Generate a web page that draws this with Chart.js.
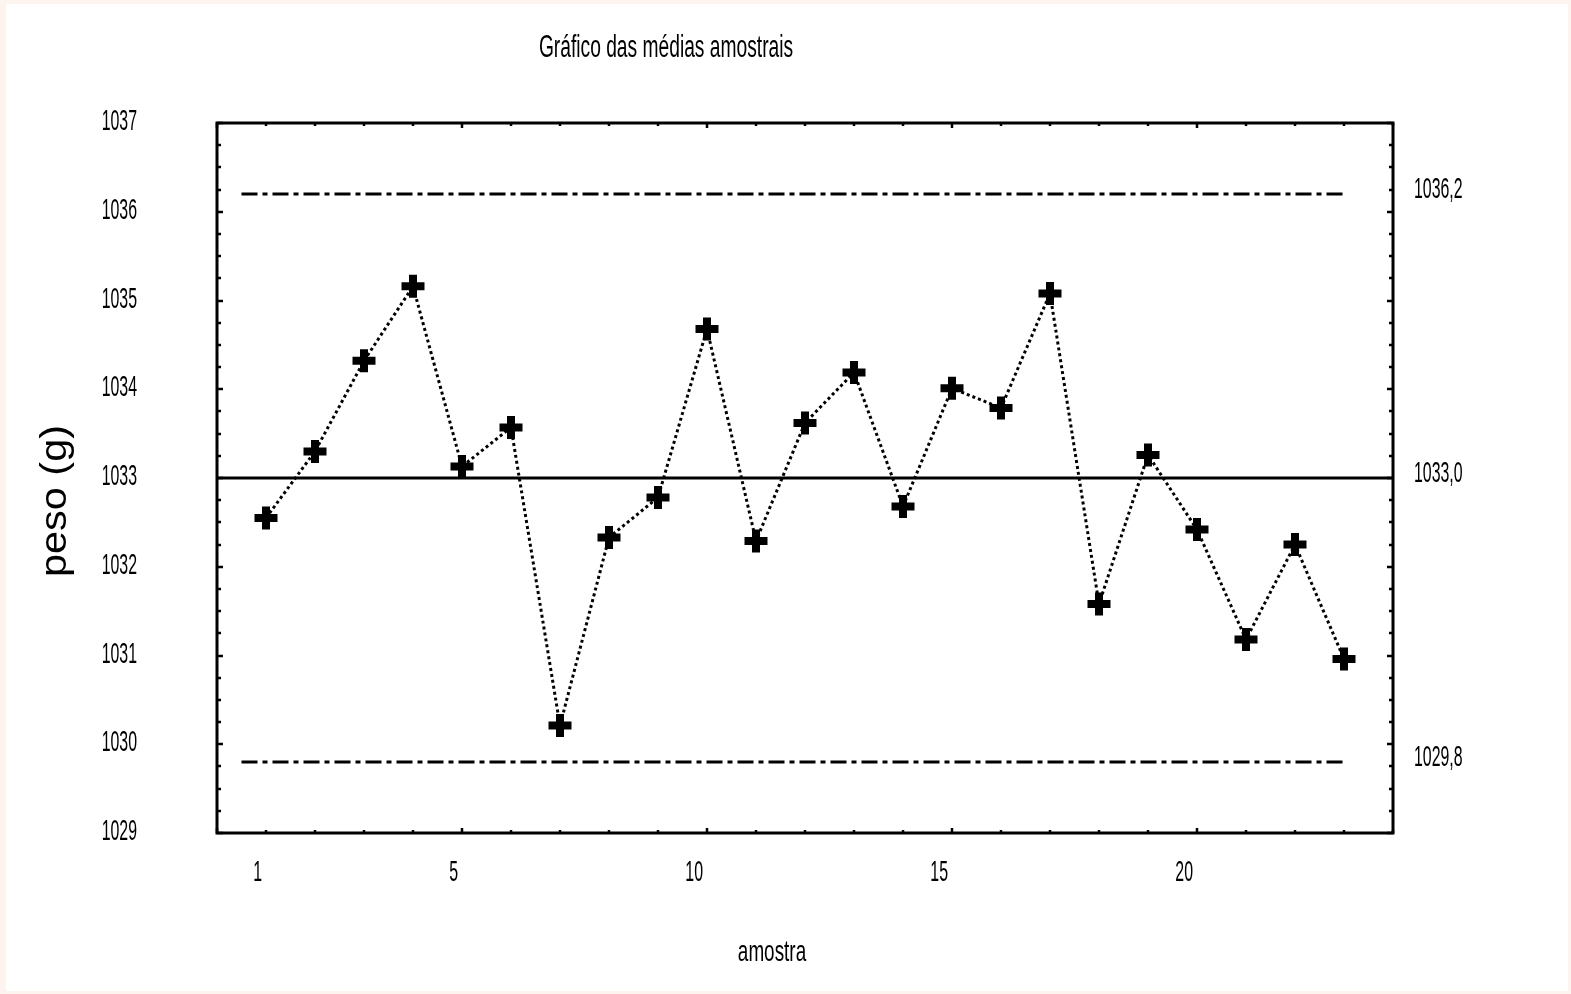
<!DOCTYPE html>
<html>
<head>
<meta charset="utf-8">
<script src="https://cdn.jsdelivr.net/npm/chart.js@4.4.1/dist/chart.umd.min.js"></script>
<style>
  html, body { margin: 0; padding: 0; background: #fdf4ef; overflow: hidden; }
  #wrap { position: absolute; left: 0; top: 0; width: 1571px; height: 994px; }
</style>
</head>
<body>
<div id="wrap"><canvas id="c" width="1571" height="994"></canvas></div>
<script>
// Sample means (g) for samples 1..23
const samples = [1, 2, 3, 4, 5, 6, 7, 8, 9, 10, 11, 12, 13, 14, 15, 16, 17, 18, 19, 20, 21, 22, 23];
const means = [1032.55, 1033.30, 1034.32, 1035.16, 1033.13, 1033.57, 1030.21, 1032.33, 1032.78,
               1034.68, 1032.29, 1033.62, 1034.19, 1032.68, 1034.01, 1033.79, 1035.08, 1031.58,
               1033.26, 1032.42, 1031.18, 1032.25, 1030.96];

// Control limits
const centerLine = 1033.0;
const upperLimit = 1036.2;
const lowerLimit = 1029.8;

// Axis ticks
const yTickValues = [1029, 1030, 1031, 1032, 1033, 1034, 1035, 1036, 1037];
const xTickValues = [1, 5, 10, 15, 20];
const xRange = [0, 24];
const yRange = [1029, 1037];

// Texts
const titleText = 'Gráfico das médias amostrais';
const xTitle = 'amostra';
const yTitle = 'peso (g)';

const FONT_WIDE = '"Liberation Sans", Arial, sans-serif';
const FONT = '"Liberation Sans Narrow", "Arial Narrow", "Liberation Sans", Arial, sans-serif';

// Horizontal squeeze factors are given relative to the regular face;
// if the narrow face is present, compensate for its narrower glyphs.
let narrowRatio = 1;
function computeNarrowRatio(ctx) {
  ctx.save();
  ctx.font = '100px ' + FONT_WIDE;
  const wReg = ctx.measureText('1037 Gráfico amostra').width;
  ctx.font = '100px ' + FONT;
  const wNar = ctx.measureText('1037 Gráfico amostra').width;
  ctx.restore();
  narrowRatio = wReg / wNar;
}

function drawText(ctx, text, x, y, size, sx, align, rotate) {
  ctx.save();
  ctx.translate(x, y);
  if (rotate) ctx.rotate(rotate);
  ctx.scale(sx * narrowRatio, 1);
  ctx.font = size + 'px ' + FONT;
  ctx.textAlign = align;
  ctx.textBaseline = 'alphabetic';
  ctx.fillStyle = '#000';
  ctx.fillText(text, 0, 0);
  ctx.restore();
}

function drawWideText(ctx, text, x, y, size, sx, align, rotate) {
  ctx.save();
  ctx.translate(x, y);
  if (rotate) ctx.rotate(rotate);
  ctx.scale(sx, 1);
  ctx.font = size + 'px ' + FONT_WIDE;
  ctx.textAlign = align;
  ctx.textBaseline = 'alphabetic';
  ctx.fillStyle = '#000';
  ctx.fillText(text, 0, 0);
  ctx.restore();
}

const fmtComma = v => v.toFixed(1).replace('.', ',');

// Page background, frame with inward ticks, and all labels
const framePlugin = {
  id: 'frame',
  beforeDraw(chart) {
    const ctx = chart.ctx;
    computeNarrowRatio(ctx);
    ctx.save();
    ctx.fillStyle = '#ffffff';
    ctx.fillRect(6, 4, chart.width - 9, chart.height - 7);
    ctx.restore();
  },
  afterDraw(chart) {
    const ctx = chart.ctx;
    const { left, right, top, bottom } = chart.chartArea;
    const xs = chart.scales.x, ys = chart.scales.y;
    ctx.save();
    ctx.strokeStyle = '#000';
    ctx.lineCap = 'butt';

    // inward tick marks
    ctx.lineWidth = 2.5;
    ctx.beginPath();
    for (let v = yRange[0]; v <= yRange[1] + 1e-9; v += 0.25) {
      const y = Math.round(ys.getPixelForValue(v));
      const len = Math.abs(v - Math.round(v)) < 1e-6 ? 6 : 4;
      ctx.moveTo(left, y); ctx.lineTo(left + len, y);
      ctx.moveTo(right, y); ctx.lineTo(right - len, y);
    }
    for (let i = xRange[0]; i <= xRange[1]; i++) {
      const x = Math.round(xs.getPixelForValue(i));
      const len = (i % 5 === 0) ? 5 : 3;
      ctx.moveTo(x, bottom); ctx.lineTo(x, bottom - len);
      ctx.moveTo(x, top); ctx.lineTo(x, top + len);
    }
    ctx.stroke();

    // frame
    ctx.lineWidth = 3;
    ctx.lineJoin = 'miter';
    ctx.strokeRect(left, top, right - left, bottom - top);
    ctx.restore();

    // left tick labels
    yTickValues.forEach(v => {
      const y = ys.getPixelForValue(v);
      drawText(ctx, String(v), 137, y + 7, 30, 0.53, 'right');
    });
    // bottom tick labels
    xTickValues.forEach(v => {
      const x = xs.getPixelForValue(v);
      drawText(ctx, String(v), x - 4, 881, 30, 0.53, 'right');
    });
    // right-side control limit labels
    [upperLimit, centerLine, lowerLimit].forEach(v => {
      const y = ys.getPixelForValue(v);
      drawText(ctx, fmtComma(v), 1414, y + 4, 30, 0.53, 'left');
    });

    // titles
    drawText(ctx, titleText, 666, 57, 31, 0.62, 'center');
    drawText(ctx, xTitle, 772, 961, 30, 0.63, 'center');
    drawWideText(ctx, yTitle, 65.5, 501, 36, 1.15, 'center', -Math.PI / 2);
  }
};

const meanPoints = samples.map((s, i) => ({ x: s, y: means[i] }));

new Chart(document.getElementById('c'), {
  type: 'line',
  data: {
    datasets: [
      {
        label: 'médias',
        data: meanPoints,
        borderColor: '#000',
        borderWidth: 3,
        borderDash: [3, 3],
        pointStyle: 'cross',
        pointRadius: 11.5,
        pointBorderWidth: 8,
        pointBorderColor: '#000',
        pointBackgroundColor: '#000',
        tension: 0,
        order: 0
      },
      {
        label: 'LC',
        data: [{ x: xRange[0], y: centerLine }, { x: xRange[1], y: centerLine }],
        borderColor: '#000',
        borderWidth: 3,
        pointRadius: 0,
        order: 1
      },
      {
        label: 'LSC',
        data: [{ x: 0.5, y: upperLimit }, { x: 23, y: upperLimit }],
        borderColor: '#000',
        borderWidth: 3,
        borderDash: [16, 5, 5, 5],
        pointRadius: 0,
        order: 1
      },
      {
        label: 'LIC',
        data: [{ x: 0.5, y: lowerLimit }, { x: 23, y: lowerLimit }],
        borderColor: '#000',
        borderWidth: 3,
        borderDash: [16, 5, 5, 5],
        pointRadius: 0,
        order: 1
      }
    ]
  },
  options: {
    responsive: false,
    devicePixelRatio: 1,
    animation: false,
    events: [],
    layout: { padding: { left: 217, top: 123, right: 178, bottom: 161 } },
    plugins: { legend: { display: false }, tooltip: { enabled: false }, title: { display: false } },
    scales: {
      x: { type: 'linear', min: xRange[0], max: xRange[1], display: false },
      y: { type: 'linear', min: yRange[0], max: yRange[1], display: false }
    }
  },
  plugins: [framePlugin]
});
</script>
</body>
</html>
